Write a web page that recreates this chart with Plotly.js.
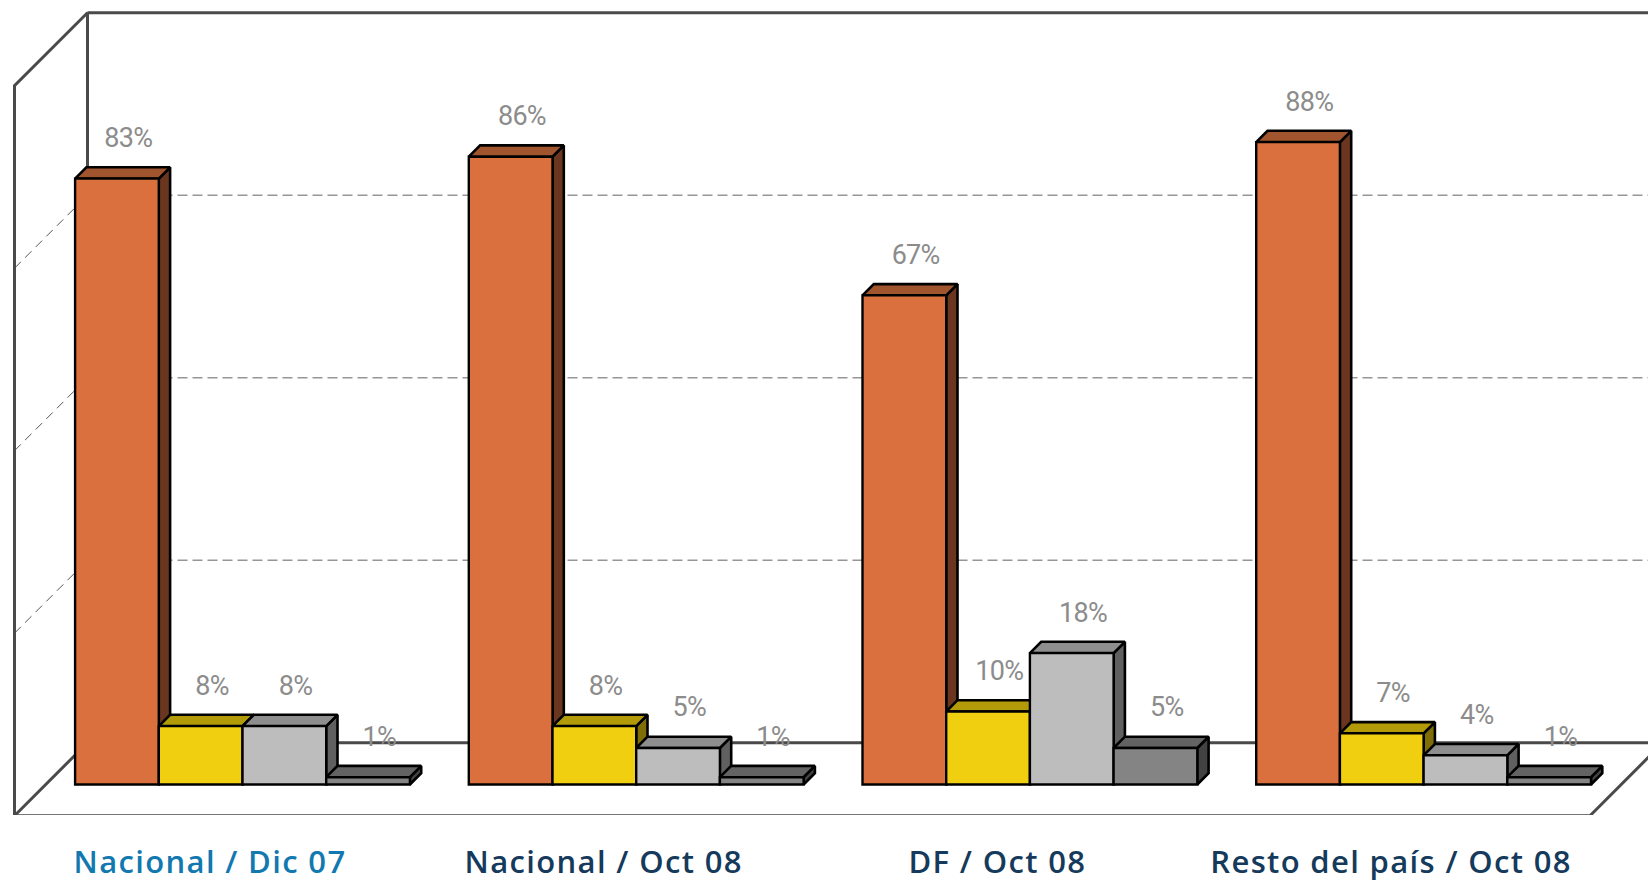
<!DOCTYPE html>
<html>
<head>
<meta charset="utf-8">
<script src="https://cdn.plot.ly/plotly-3.0.1.min.js"></script>
<style>html,body{margin:0;padding:0;background:#fff;overflow:hidden}#chart{width:1648px;height:880px}
.xtick text{letter-spacing:1.35px}
.textpoint text{letter-spacing:-0.7px}</style>
</head>
<body>
<div id="chart"></div>
<script>
// ---- data ----
var categories = ["Nacional / Dic 07", "Nacional / Oct 08", "DF / Oct 08", "Resto del país / Oct 08"];
var seriesA = [83, 86, 67, 88];
var seriesB = [8, 8, 10, 7];
var seriesC = [8, 5, 18, 4];
var seriesD = [1, 1, 5, 1];
var gridValues = [25, 50, 75];

var frontColors = ["#D9703D", "#F0CE10", "#BDBDBD", "#848484"];
var topColors   = ["#A0552F", "#B39A08", "#8E8E8E", "#636363"];
var sideColors  = ["#6B3620", "#7F6E06", "#606060", "#424242"];

// ---- scale: one value unit and one category in pixels ----
var W = 1648, H = 880, plotBottom = 815;
var pxPerUnit = 7.3, pxPerCat = 393.7;
var zeroPy = 784.5, group0Px = 242.5;
var xRange = [-group0Px / pxPerCat, (W - group0Px) / pxPerCat];
var yRange = [(zeroPy - plotBottom) / pxPerUnit, zeroPy / pxPerUnit];
var barW = 83.7 / pxPerCat;
var depX = 11.3 / pxPerCat, depY = 11.3 / pxPerUnit;      // bar depth
var wallDX = 73 / pxPerCat, wallDY = 73 / pxPerUnit;      // chart box depth
var frontX = (14.5 - group0Px) / pxPerCat;                // left front corner
var frontY = (zeroPy - 815.7) / pxPerUnit;                // floor front edge
var rightFrontX = (1590 - group0Px) / pxPerCat;
var backX = frontX + wallDX, backY = frontY + wallDY;
var labelShift = -32.5 / pxPerCat;
var series = [seriesA, seriesB, seriesC, seriesD];

var traces = [];
function line(xs, ys, color, width, dash) {
  traces.push({type:"scatter", mode:"lines", x:xs, y:ys, cliponaxis:false, hoverinfo:"skip", showlegend:false,
    line:{color:color, width:width, dash:dash || "solid"}});
}
// back wall gridlines + left wall dashed lines
gridValues.forEach(function (g) {
  line([backX, xRange[1]], [backY + g, backY + g], "#969696", 1.6, "10px,5px");
  line([frontX, backX], [frontY + g, backY + g], "#555555", 1, "9px,6px");
});
// chart box
var wall = "#4a4a4a", wallW = 3;
line([frontX, frontX, backX, backX], [frontY, frontY + 100, backY + 100, backY], wall, wallW);
line([backX, xRange[1] + 0.1], [backY + 100, backY + 100], wall, wallW);
line([frontX, backX, rightFrontX + wallDX], [frontY, backY, backY], wall, wallW);
line([frontX, rightFrontX, rightFrontX + wallDX], [frontY, frontY, backY], wall, wallW);

// side and top faces, painted left to right
function poly(xs, ys, color) {
  traces.push({type:"scatter", mode:"lines", x:xs, y:ys, fill:"toself", fillcolor:color, hoverinfo:"skip", showlegend:false,
    line:{color:"#000000", width:2.6}});
}
categories.forEach(function (c, i) {
  series.forEach(function (vals, j) {
    var v = vals[i];
    var l = i + (j - 2) * barW, r = l + barW;
    poly([r, r + depX, r + depX, r, r], [0, depY, v + depY, v, 0], sideColors[j]);
    poly([l, l + depX, r + depX, r, l], [v, v + depY, v + depY, v, v], topColors[j]);
  });
});

// front faces on an overlay subplot
series.forEach(function (vals, j) {
  traces.push({type:"bar", xaxis:"x2", yaxis:"y2", x:[0,1,2,3], y:vals, hoverinfo:"skip", showlegend:false,
    marker:{color:frontColors[j], line:{color:"#000000", width:2.4}}});
});
// value labels
series.forEach(function (vals, j) {
  traces.push({type:"scatter", mode:"text", xaxis:"x2", yaxis:"y2", cliponaxis:false, hoverinfo:"skip", showlegend:false,
    x:[0,1,2,3].map(function (i) { return i + (j - 1.5) * barW + depX; }),
    y:vals.map(function (v) { return v + 3.4; }),
    text:vals.map(function (v) { return v + "%"; }),
    textposition:"top center",
    textfont:{family:"Roboto, sans-serif", size:27, color:"#8c8c8c", weight:400}});
});

var layout = {
  width:W, height:H, margin:{l:0, r:0, t:0, b:H - plotBottom, pad:0, autoexpand:false},
  paper_bgcolor:"#ffffff", plot_bgcolor:"#ffffff", showlegend:false,
  barmode:"group", bargap:1 - 4 * barW, bargroupgap:0,
  xaxis:{range:xRange, showgrid:false, zeroline:false, showline:false, fixedrange:true,
    tickmode:"array", tickvals:[0,1,2,3].map(function (i) { return i + labelShift; }),
    ticktext:categories.map(function (c, i) { return i === 0 ? '<span style="color:#1278B0">' + c + '</span>' : c; }),
    ticks:"outside", ticklen:20, tickcolor:"rgba(0,0,0,0)",
    tickfont:{family:"'Open Sans', sans-serif", size:31, color:"#153A5B", weight:600}},
  yaxis:{range:yRange, showgrid:false, zeroline:false, showline:false, showticklabels:false, ticks:"", fixedrange:true},
  xaxis2:{overlaying:"x", matches:"x", range:xRange, visible:false, fixedrange:true, type:"linear"},
  yaxis2:{overlaying:"y", range:yRange, visible:false, fixedrange:true}
};
Plotly.newPlot("chart", traces, layout, {displayModeBar:false, staticPlot:true});
</script>
</body>
</html>
